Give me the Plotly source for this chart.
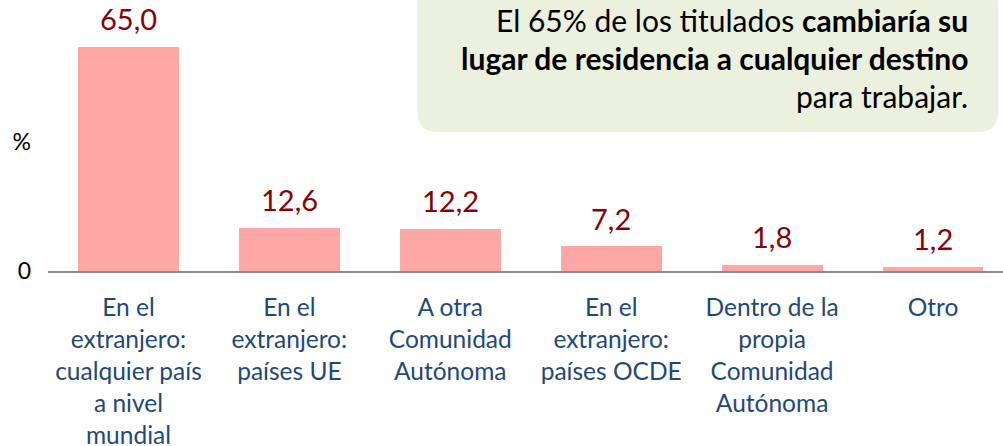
import plotly.graph_objects as go

categories = [
    "En el<br>extranjero:<br>cualquier país<br>a nivel<br>mundial",
    "En el<br>extranjero:<br>países UE",
    "A otra<br>Comunidad<br>Autónoma",
    "En el<br>extranjero:<br>países OCDE",
    "Dentro de la<br>propia<br>Comunidad<br>Autónoma",
    "Otro",
]
values = [65.0, 12.6, 12.2, 7.2, 1.8, 1.2]
value_labels = ["65,0", "12,6", "12,2", "7,2", "1,8", "1,2"]
y_tick_vals = [0, 37.4]
y_tick_text = ["0", "%"]
note_lines = [
    "El 65% de los titulados <b>cambiaría su</b>",
    "<b>lugar de residencia a cualquier destino</b>",
    "para trabajar.",
]

FONT = "Lato"
fig = go.Figure()
fig.add_trace(go.Bar(
    x=list(range(len(categories))), y=values,
    marker=dict(color="#FFA6A6", line=dict(width=0)),
    width=0.627, hoverinfo="skip",
))

for i, (v, t) in enumerate(zip(values, value_labels)):
    fig.add_annotation(x=i, y=v, text=t, showarrow=False, yshift=28,
                       yanchor="middle", xanchor="center",
                       font=dict(family=FONT, size=29, color="#8B0000"))

# note box (rounded rectangle)
x0, x1, y0, y1 = 0.387, 0.995, 0.513, 1.06
rx, ry = 0.021, 0.074
path = (f"M {x0+rx},{y0} L {x1-rx},{y0} Q {x1},{y0} {x1},{y0+ry} "
        f"L {x1},{y1-ry} Q {x1},{y1} {x1-rx},{y1} L {x0+rx},{y1} "
        f"Q {x0},{y1} {x0},{y1-ry} L {x0},{y0+ry} Q {x0},{y0} {x0+rx},{y0} Z")
fig.add_shape(type="path", path=path, xref="paper", yref="paper",
              fillcolor="#EBF1DE", line=dict(width=0), layer="below")

for line, yp in zip(note_lines, [0.926, 0.786, 0.645]):
    fig.add_annotation(x=0.965, y=yp, xref="paper", yref="paper", text=line,
                       showarrow=False, xanchor="right", yanchor="middle",
                       font=dict(family=FONT, size=30, color="#000000"))

fig.update_layout(
    width=1003, height=446,
    margin=dict(l=48, r=0, t=0, b=175, autoexpand=False),
    plot_bgcolor="white", paper_bgcolor="white",
    showlegend=False, bargap=0,
    xaxis=dict(
        range=[-0.5, 5.435], tickvals=list(range(len(categories))),
        ticktext=categories, showgrid=False, zeroline=False,
        showline=True, linecolor="#8C8C8C", linewidth=2,
        ticks="", tickfont=dict(family=FONT, size=24.5, color="#1F497D"),
        tickangle=0, automargin=False, ticklabelstandoff=14,
    ),
    yaxis=dict(
        range=[0, 78.6], tickvals=y_tick_vals, ticktext=y_tick_text,
        showgrid=False, zeroline=False, showline=False, ticks="",
        tickfont=dict(family=FONT, size=23, color="#000000"),
        automargin=False, ticklabelstandoff=16,
    ),
)
fig.write_html(
    "out.html",
    config={"displayModeBar": False},
    post_script="document.body.style.margin='0';document.body.style.padding='0';",
)
